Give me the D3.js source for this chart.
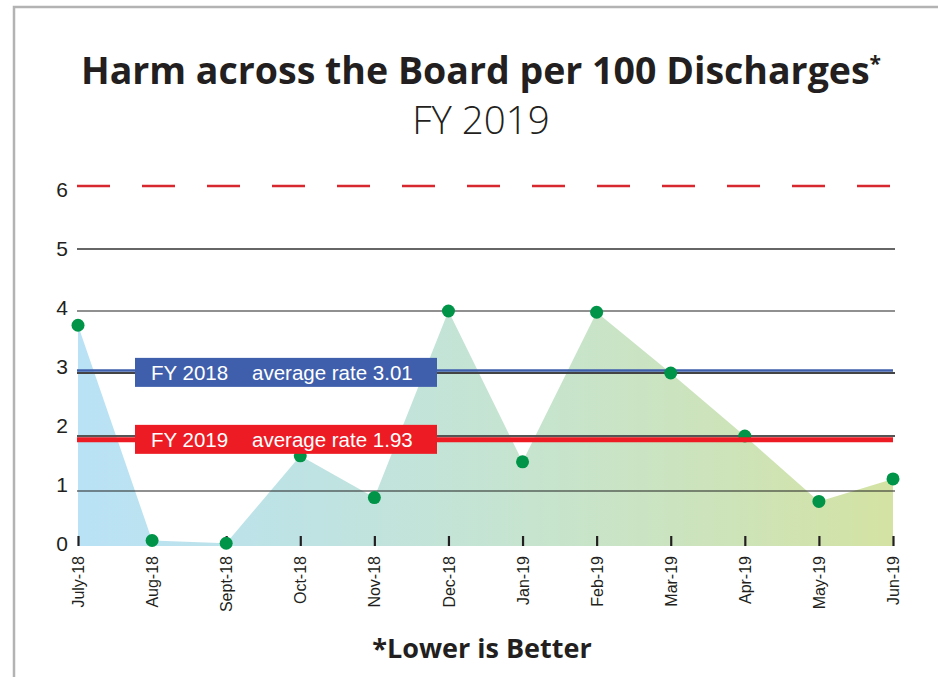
<!DOCTYPE html>
<html>
<head>
<meta charset="utf-8">
<script src="https://cdn.jsdelivr.net/npm/d3@7"></script>
<style>
  html, body { margin: 0; padding: 0; background: #fff; }
  svg { display: block; }
</style>
</head>
<body>
<div id="chart"></div>
<script>
// ---------- Data ----------
const months = ['July-18', 'Aug-18', 'Sept-18', 'Oct-18', 'Nov-18', 'Dec-18',
                'Jan-19', 'Feb-19', 'Mar-19', 'Apr-19', 'May-19', 'Jun-19'];
const harmRate = [3.77, 0.1, 0.05, 1.64, 0.88, 4.0, 1.53, 3.98, 3.0, 2.0, 0.81, 1.22];
const yTicks = [0, 1, 2, 3, 4, 5, 6];
const targetLine = 6;
const avgLines = [
  { label: 'FY 2018', text: 'average rate 3.01', value: 3.01 },
  { label: 'FY 2019', text: 'average rate 1.93', value: 1.93 }
];

const W = 938, H = 677;
const svg = d3.select('#chart').append('svg').attr('width', W).attr('height', H);

// frame
svg.append('path')
  .attr('d', `M14,${H} V7 H${W}`)
  .attr('fill', 'none').attr('stroke', '#b3b3b3').attr('stroke-width', 2.5);

// titles
svg.append('text').attr('x', 481).attr('y', 84).attr('text-anchor', 'middle')
  .style('font-family', '"Open Sans", sans-serif').style('font-weight', 700)
  .style('font-size', '37.5px').attr('fill', '#231f20')
  .text('Harm across the Board per 100 Discharges')
  .append('tspan').attr('dy', -13).style('font-size', '21px').text('*');

svg.append('text').attr('x', 481).attr('y', 134).attr('text-anchor', 'middle')
  .style('font-family', '"Open Sans", sans-serif').style('font-weight', 300)
  .style('font-size', '38.5px').attr('fill', '#231f20')
  .text('FY 2019');

svg.append('text').attr('x', 482).attr('y', 658).attr('text-anchor', 'middle')
  .style('font-family', '"Open Sans", sans-serif').style('font-weight', 700)
  .style('font-size', '27px').attr('fill', '#231f20')
  .text('*Lower is Better');

// ---------- Scales ----------
const x = d3.scalePoint().domain(months).range([78, 893]);
// the source graphic spaces its gridlines unevenly, so a polylinear scale
const y = d3.scaleLinear().domain(yTicks).range([546, 491, 436, 373, 311, 249, 186]);
const yLabel = d3.scaleLinear().domain([0, 6]).range([543, 189]);

const data = months.map((m, i) => ({ month: m, v: harmRate[i] }));

// ---------- Area with gradient ----------
const defs = svg.append('defs');
const grad = defs.append('linearGradient').attr('id', 'areaGrad')
  .attr('gradientUnits', 'userSpaceOnUse')
  .attr('x1', x.range()[0]).attr('x2', x.range()[1]).attr('y1', 0).attr('y2', 0);
[['0%', '#b9e2f6'], ['30%', '#bfe3e2'], ['55%', '#c6e4cf'], ['80%', '#cde3b9'], ['100%', '#d4e3a3']]
  .forEach(([o, c]) => grad.append('stop').attr('offset', o).attr('stop-color', c));

svg.append('path').datum(data)
  .attr('fill', 'url(#areaGrad)')
  .attr('d', d3.area().x(d => x(d.month)).y0(y(0)).y1(d => y(d.v)));

// ---------- Gridlines ----------
const gridStyle = { 1: ['#222', 1.2], 2: ['#555', 2], 3: ['#444', 2], 4: ['#222', 1.2], 5: ['#666', 2] };
svg.append('g').selectAll('line').data(yTicks.filter(t => t > 0 && t < targetLine)).join('line')
  .attr('x1', 77).attr('x2', 895)
  .attr('y1', d => y(d)).attr('y2', d => y(d))
  .attr('stroke', d => gridStyle[d][0]).attr('stroke-width', d => gridStyle[d][1]);

svg.append('line')
  .attr('x1', 77).attr('x2', 895).attr('y1', y(targetLine)).attr('y2', y(targetLine))
  .attr('stroke', '#d7282f').attr('stroke-width', 2.5).attr('stroke-dasharray', '33 32');

// y labels
svg.append('g').selectAll('text').data(yTicks).join('text')
  .attr('x', 68).attr('y', d => yLabel(d)).attr('dy', '0.36em').attr('text-anchor', 'end')
  .style('font-family', '"Liberation Sans", Arial, sans-serif').style('font-size', '21px')
  .attr('fill', '#231f20').text(d => d);

// x axis ticks + labels
const xAxis = svg.append('g').attr('transform', `translate(0,${y(0)})`)
  .call(d3.axisBottom(x).tickSizeInner(-10).tickSizeOuter(0).tickPadding(10));
xAxis.select('.domain').remove();
xAxis.selectAll('.tick line').attr('stroke', '#231f20').attr('stroke-width', 2.2);
xAxis.selectAll('.tick text')
  .attr('transform', 'rotate(-90)').attr('text-anchor', 'end')
  .attr('x', -10).attr('y', 0).attr('dy', '0.35em')
  .style('font-family', '"Liberation Sans", Arial, sans-serif').style('font-size', '16px')
  .attr('fill', '#231f20');

// ---------- Average lines, dots, boxes ----------
const avgColors = ['#3f5fac', '#ed1c24'];
const avgWidths = [2.5, 5];

svg.append('line')
  .attr('x1', 77).attr('x2', 893).attr('y1', y(avgLines[0].value) - 2).attr('y2', y(avgLines[0].value) - 2)
  .attr('stroke', avgColors[0]).attr('stroke-width', avgWidths[0]);

svg.append('g').selectAll('circle').data(data).join('circle')
  .attr('cx', d => x(d.month)).attr('cy', d => y(d.v)).attr('r', 6.5)
  .attr('fill', '#009448');

svg.append('line')
  .attr('x1', 77).attr('x2', 893).attr('y1', y(avgLines[1].value)).attr('y2', y(avgLines[1].value))
  .attr('stroke', avgColors[1]).attr('stroke-width', avgWidths[1]);

const boxH = 29;
avgLines.forEach((a, i) => {
  const cy = y(a.value) - (i === 0 ? 0 : 0.5);
  const g = svg.append('g');
  g.append('rect').attr('x', 135).attr('y', cy - boxH / 2).attr('width', 302).attr('height', boxH)
    .attr('fill', avgColors[i]);
  const t = g.append('text').attr('x', 151).attr('y', cy).attr('dy', '0.36em')
    .style('font-family', '"Liberation Sans", Arial, sans-serif').style('font-size', '20.5px')
    .attr('fill', '#fff');
  t.append('tspan').text(a.label);
  t.append('tspan').attr('x', 252).text(a.text);
});
</script>
</body>
</html>
